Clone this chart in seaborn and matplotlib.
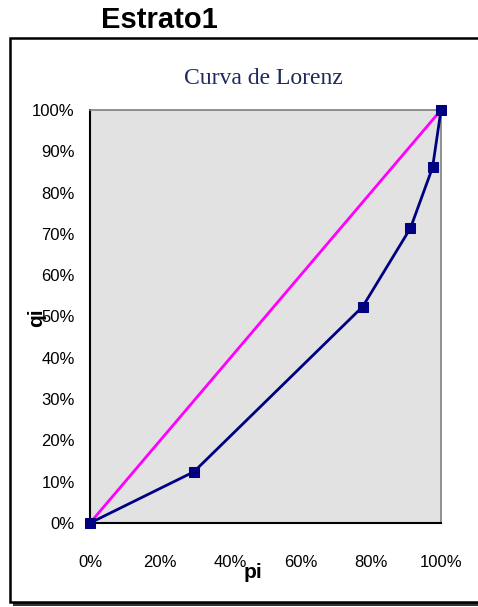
import matplotlib
matplotlib.use('agg')

import matplotlib.pyplot as plt
import seaborn as sns
import pandas as pd
from matplotlib.patches import Rectangle
from matplotlib.ticker import PercentFormatter, MultipleLocator

# Lorenz curve points (cumulative % population pi vs cumulative % income qi)
pi = [0, 29.6, 77.7, 91.3, 97.6, 100]
qi = [0, 12.4, 52.4, 71.4, 86.1, 100]
equality = [0, 100]

sns.set_style("white")
plt.rcParams['font.family'] = ['Liberation Sans Narrow', 'Liberation Sans', 'DejaVu Sans']
plt.rcParams['text.color'] = 'black'
plt.rcParams['axes.labelcolor'] = 'black'
plt.rcParams['xtick.color'] = 'black'
plt.rcParams['ytick.color'] = 'black'

W, H = 478, 607
fig = plt.figure(figsize=(W / 100, H / 100), dpi=100)

# outer frame with shadow
fig.patches.append(Rectangle((13 / W, 1 - 606 / H), 470 / W, 565 / H, transform=fig.transFigure,
                             facecolor='#333333', edgecolor='none', zorder=0))
fig.patches.append(Rectangle((10 / W, 1 - 602 / H), 470 / W, 564 / H, transform=fig.transFigure,
                             facecolor='white', edgecolor='black', linewidth=1.8, zorder=1))

ax = fig.add_axes([90 / W, 1 - 523 / H, 351 / W, 413 / H], zorder=2)
ax.set_facecolor('#e2e2e2')

df = pd.DataFrame({'pi': pi, 'qi': qi})
sns.lineplot(x=equality, y=equality, color='#ff00ff', linewidth=2, ax=ax, zorder=3)
sns.lineplot(data=df, x='pi', y='qi', color='#000080', linewidth=2, marker='s', markersize=7,
             markeredgecolor='#000080', ax=ax, zorder=4, clip_on=False)

ax.set_xlim(0, 100)
ax.set_ylim(0, 100)
ax.xaxis.set_major_locator(MultipleLocator(20))
ax.yaxis.set_major_locator(MultipleLocator(10))
ax.xaxis.set_major_formatter(PercentFormatter(decimals=0))
ax.yaxis.set_major_formatter(PercentFormatter(decimals=0))
ax.tick_params(axis='both', direction='inout', length=8, width=1, color='black', labelsize=12,
               labelcolor='black')
ax.tick_params(axis='x', pad=19)
ax.tick_params(axis='y', pad=7)

for side in ['top', 'right']:
    ax.spines[side].set_color('#7f7f7f')
    ax.spines[side].set_linewidth(1.2)
for side in ['left', 'bottom']:
    ax.spines[side].set_color('black')
    ax.spines[side].set_linewidth(1.5)

ax.set_xlabel('pi', fontsize=15, fontweight='bold', family=['Liberation Sans Narrow', 'Liberation Sans'])
ax.xaxis.set_label_coords(0.464, -0.12)
ax.xaxis.label.set_verticalalignment('center')
ax.set_ylabel('qi', fontsize=15, fontweight='bold', family=['Liberation Sans Narrow', 'Liberation Sans'])
ax.yaxis.set_label_coords(-0.152, 0.497)
ax.yaxis.label.set_verticalalignment('center')

fig.text(159 / W, 1 - 20 / H, 'Estrato1', ha='center', va='center', fontsize=21, fontweight='bold',
         family=['Liberation Sans', 'DejaVu Sans'])
fig.text(263 / W, 1 - 78 / H, 'Curva de Lorenz', ha='center', va='center', fontsize=17,
         color='#1f2a5c', family=['Liberation Serif', 'DejaVu Serif'], zorder=5)

fig.savefig('out.png', dpi=100)
